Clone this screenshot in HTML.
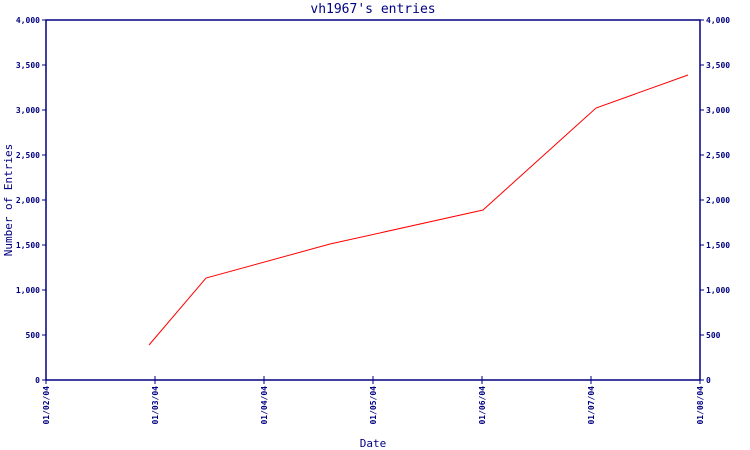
<!DOCTYPE html>
<html><head><meta charset="utf-8"><style>
html,body{margin:0;padding:0;background:#fff;}
svg{display:block;font-family:"DejaVu Sans Mono","Liberation Mono",monospace;}
</style></head><body>
<svg id="chart" width="750" height="450" viewBox="0 0 750 450" xmlns="http://www.w3.org/2000/svg">
<text x="373" y="13" text-anchor="middle" font-size="13" fill="#000080">vh1967's entries</text>
<text x="373" y="447" text-anchor="middle" font-size="11" fill="#000080">Date</text>
<text transform="translate(12,200) rotate(-90)" text-anchor="middle" font-size="11" fill="#000080">Number of Entries</text>
<g id="axes"></g>
<g id="series"></g>
</svg>
<script>
const xTickLabels = ["01/02/04","01/03/04","01/04/04","01/05/04","01/06/04","01/07/04","01/08/04"];
const yTickValues = [0,500,1000,1500,2000,2500,3000,3500,4000];
const pointMonths = [0.945,1.468,2.606,4.009,5.046,5.89];
const pointValues = [389,1133,1511,1889,3022,3389];

const L=46,R=700,T=20,B=380,YMAX=4000;
const xs=m=>L+(R-L)*m/(xTickLabels.length-1);
const ys=v=>B-(B-T)*v/YMAX;
const NS="http://www.w3.org/2000/svg";
const axes=document.getElementById('axes');
const series=document.getElementById('series');
function mk(tag,attrs,parent){const e=document.createElementNS(NS,tag);for(const k in attrs)e.setAttribute(k,attrs[k]);parent.appendChild(e);return e;}
const C="#000080";
let frame=mk('rect',{x:L,y:T,width:R-L,height:B-T,fill:'none',stroke:C,'stroke-width':1.5},axes);


yTickValues.forEach(v=>{
  const y=ys(v);
  let t1=mk('line',{x1:L-4,x2:L,y1:y,y2:y,stroke:C},axes);
  
  
  let t2=mk('line',{x1:R,x2:R+4,y1:y,y2:y,stroke:C},axes);
  
  
  const s=v.toLocaleString('en-US');
  let a=mk('text',{x:L-6,y:y+3,'text-anchor':'end','font-size':8,'font-weight':'bold',fill:C},axes);a.textContent=s;
  
  
  let b=mk('text',{x:R+6,y:y+3,'text-anchor':'start','font-size':8,'font-weight':'bold',fill:C},axes);b.textContent=s;
  
  
});
xTickLabels.forEach((lab,i)=>{
  const x=xs(i);
  let t=mk('line',{x1:x,x2:x,y1:B-4,y2:B+4,stroke:C},axes);
  
  
  let tx=mk('text',{transform:`translate(${x+3},${B+6}) rotate(-90)`,'text-anchor':'end','font-size':8,'font-weight':'bold',fill:C},axes);
  tx.textContent=lab;
  
  
});
const pts=pointMonths.map((m,i)=>xs(m)+','+ys(pointValues[i])).join(' ');
let line=mk('polyline',{points:pts,fill:'none',stroke:'#ff0000','stroke-width':1},series);


</script>
</body></html>
